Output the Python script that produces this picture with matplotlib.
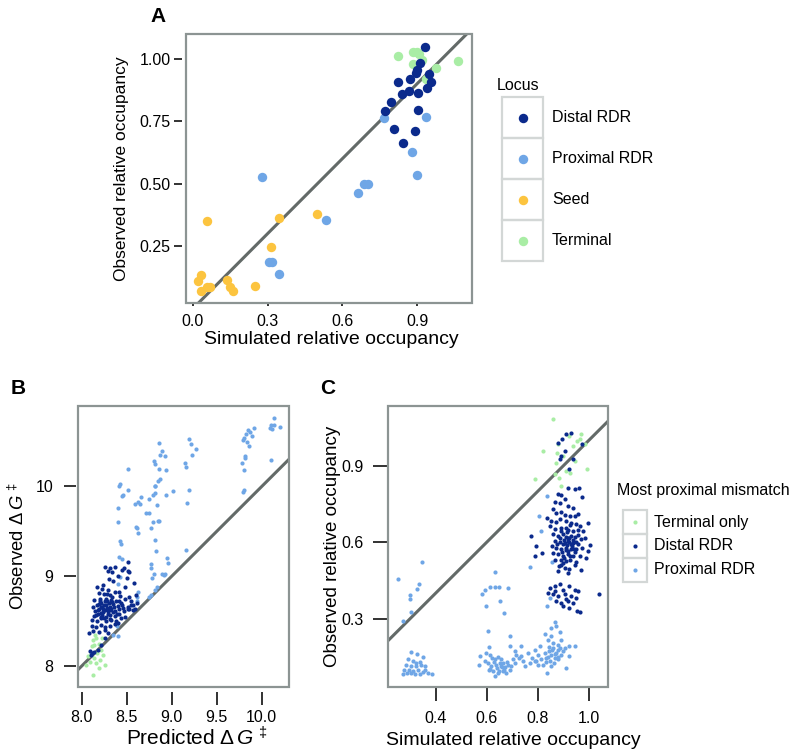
import matplotlib
matplotlib.use("Agg")
import matplotlib.pyplot as plt
from matplotlib.patches import Rectangle

plt.rcParams["font.family"] = ["Liberation Sans", "DejaVu Sans"]
plt.rcParams["mathtext.fontset"] = "custom"
plt.rcParams["mathtext.rm"] = "Liberation Sans"
plt.rcParams["mathtext.it"] = "Liberation Sans:italic"

DISTAL = "#0b2a8c"
PROXIMAL = "#6fa6e6"
SEED = "#fcc43f"
TERMINAL = "#a9eda5"
BOX = "#8c9493"
DIAG = "#636a68"

# ---------------- panel A data ----------------
a_distal_x = [0.929, 0.909, 0.900, 0.896, 0.946, 0.824, 0.869, 0.956, 0.938, 0.866, 0.837, 0.904,
              0.795, 0.771, 0.904, 0.808, 0.890, 0.843]
a_distal_y = [1.047, 0.983, 0.955, 0.942, 0.938, 0.906, 0.917, 0.907, 0.884, 0.871, 0.858, 0.863,
              0.826, 0.791, 0.794, 0.718, 0.710, 0.661]
a_prox_x = [0.765, 0.933, 0.878, 0.898, 0.277, 0.685, 0.704, 0.663, 0.536, 0.304, 0.317, 0.344]
a_prox_y = [0.762, 0.766, 0.626, 0.533, 0.525, 0.497, 0.497, 0.461, 0.354, 0.187, 0.185, 0.138]
a_seed_x = [0.056, 0.344, 0.498, 0.315, 0.034, 0.022, 0.056, 0.069, 0.032, 0.136, 0.149, 0.162, 0.249]
a_seed_y = [0.350, 0.363, 0.377, 0.245, 0.133, 0.110, 0.087, 0.085, 0.071, 0.113, 0.085, 0.071, 0.091]
a_term_x = [0.822, 0.882, 0.898, 0.906, 0.882, 0.920, 0.973, 1.062, 0.933]
a_term_y = [1.010, 1.027, 1.027, 1.020, 0.978, 0.994, 0.962, 0.991, 0.917]

# ---------------- panel B data (predicted, observed dG) ----------------
b_prox = [
    (10.14, 10.76), (10.10, 10.68), (10.14, 10.69), (10.09, 10.65), (10.11, 10.64), (10.20, 10.66), (10.10, 10.30),
    (9.91, 10.65), (9.85, 10.63), (9.83, 10.58), (9.80, 10.54), (9.89, 10.56), (9.84, 10.50), (9.86, 10.45),
    (9.81, 10.32), (9.78, 10.26), (9.80, 10.18), (9.80, 9.96), (9.79, 9.94), (9.82, 10.34), (9.79, 10.52), (9.87, 10.61),
    (9.19, 10.53), (9.21, 10.47), (9.27, 10.42), (9.23, 10.35), (9.15, 10.26), (9.16, 10.22), (9.19, 9.96),
    (9.17, 9.82), (9.16, 9.29),
    (8.86, 10.48), (8.89, 10.39), (8.87, 10.35), (8.93, 10.34), (8.80, 10.28), (8.82, 10.25), (8.86, 10.19),
    (8.94, 10.18), (8.87, 10.08), (8.85, 10.06), (8.81, 10.00), (8.82, 10.01), (8.79, 9.91), (8.82, 9.93),
    (8.94, 9.90), (9.02, 9.95), (8.84, 9.79), (8.75, 9.86), (8.66, 9.88), (8.63, 9.83), (8.65, 9.80), (8.59, 9.80),
    (8.75, 9.70), (8.71, 9.70), (8.85, 9.62), (8.86, 9.62), (8.79, 9.60), (8.77, 9.54), (8.60, 9.55), (8.62, 9.54),
    (8.63, 9.48), (8.82, 9.40), (8.83, 9.28), (8.95, 9.20), (8.96, 9.15), (8.77, 9.14), (8.77, 9.09), (8.80, 9.02),
    (8.78, 8.98), (8.89, 9.03), (8.93, 9.02), (8.91, 9.01), (8.84, 8.88), (8.82, 8.85), (8.77, 8.79), (8.75, 8.77),
    (8.61, 8.77),
    (8.51, 10.19), (8.43, 10.03), (8.42, 10.01), (8.51, 9.96), (8.46, 9.91), (8.45, 9.89), (8.40, 9.76),
    (8.40, 9.60), (8.43, 9.39), (8.44, 9.36), (8.41, 9.21), (8.45, 9.19), (8.43, 8.99), (8.40, 8.91), (8.40, 8.33),
    (8.63, 8.83), (8.39, 8.45), (8.62, 8.72), (8.35, 8.35),
]
b_distal = [
    (8.26, 9.10), (8.29, 9.06), (8.32, 9.09), (8.34, 9.05), (8.37, 9.10), (8.45, 9.07), (8.51, 9.16), (8.51, 9.06),
    (8.53, 9.05), (8.47, 9.09), (8.50, 8.98), (8.58, 8.93),
    (8.17, 8.88), (8.23, 8.86), (8.29, 8.85), (8.37, 8.83), (8.48, 8.88),
    (8.19, 8.81), (8.25, 8.80), (8.31, 8.79), (8.34, 8.77), (8.43, 8.78), (8.53, 8.77), (8.60, 8.79),
    (8.14, 8.74), (8.20, 8.75), (8.26, 8.73), (8.28, 8.72), (8.33, 8.74), (8.38, 8.72), (8.42, 8.73), (8.48, 8.75),
    (8.55, 8.72), (8.61, 8.70),
    (8.13, 8.66), (8.17, 8.68), (8.22, 8.66), (8.27, 8.68), (8.31, 8.66), (8.35, 8.69), (8.40, 8.67), (8.45, 8.68),
    (8.51, 8.66), (8.57, 8.68), (8.53, 8.64),
    (8.15, 8.61), (8.19, 8.64), (8.24, 8.63), (8.29, 8.61), (8.33, 8.64), (8.37, 8.61), (8.42, 8.63), (8.47, 8.61),
    (8.51, 8.63), (8.59, 8.64),
    (8.14, 8.56), (8.18, 8.58), (8.23, 8.57), (8.27, 8.55), (8.32, 8.57), (8.37, 8.56), (8.42, 8.58), (8.48, 8.55),
    (8.11, 8.51), (8.17, 8.50), (8.22, 8.53), (8.27, 8.50), (8.33, 8.51), (8.38, 8.50), (8.44, 8.53),
    (8.11, 8.45), (8.16, 8.44), (8.21, 8.46), (8.26, 8.43), (8.31, 8.45), (8.37, 8.47), (8.40, 8.48),
    (8.08, 8.37), (8.13, 8.39), (8.19, 8.38), (8.26, 8.40), (8.29, 8.37),
    (8.09, 8.17), (8.11, 8.14), (8.14, 8.16), (8.18, 8.18), (8.22, 8.24), (8.26, 8.31), (8.10, 8.12),
    (8.22, 8.70), (8.25, 8.68), (8.28, 8.65), (8.24, 8.60), (8.30, 8.70), (8.26, 8.62), (8.20, 8.72), (8.32, 8.62),
    (8.21, 8.59), (8.35, 8.60), (8.23, 8.66), (8.27, 8.75), (8.19, 8.69), (8.29, 8.58), (8.25, 8.53), (8.31, 8.52),
    (8.18, 8.62), (8.34, 8.71), (8.36, 8.66), (8.28, 8.80), (8.21, 8.55), (8.16, 8.57), (8.39, 8.58), (8.44, 8.70),
    (8.46, 8.65), (8.55, 8.68), (8.57, 8.62), (8.41, 8.82), (8.35, 8.95), (8.30, 8.97), (8.24, 8.90), (8.40, 9.00),
]
b_term = [
    (8.13, 8.29), (8.16, 8.31), (8.19, 8.25), (8.14, 8.23), (8.11, 8.22), (8.22, 8.18), (8.17, 8.14), (8.24, 8.12),
    (8.07, 8.11), (8.14, 8.09), (8.20, 8.07), (8.09, 8.05), (8.16, 8.03), (8.26, 8.01), (8.05, 8.01), (8.19, 7.98),
    (8.13, 7.90), (8.23, 8.31), (8.15, 8.35), (8.10, 8.14),
]

# ---------------- panel C data (simulated, observed occupancy) ----------------
c_prox = [
    (0.252, 0.456), (0.348, 0.522), (0.333, 0.437), (0.327, 0.417), (0.301, 0.392), (0.298, 0.375), (0.302, 0.326),
    (0.272, 0.290),
    (0.305, 0.167), (0.328, 0.162), (0.350, 0.149), (0.291, 0.139), (0.311, 0.132), (0.337, 0.128), (0.285, 0.119),
    (0.302, 0.115), (0.324, 0.112), (0.344, 0.119), (0.359, 0.115), (0.276, 0.099), (0.294, 0.097), (0.311, 0.093),
    (0.331, 0.099), (0.350, 0.089), (0.370, 0.086), (0.272, 0.082), (0.289, 0.084), (0.318, 0.080), (0.337, 0.080),
    (0.386, 0.082), (0.305, 0.086), (0.324, 0.125), (0.357, 0.099),
    (0.634, 0.484), (0.592, 0.414), (0.612, 0.423), (0.631, 0.425), (0.648, 0.423), (0.684, 0.421), (0.583, 0.397),
    (0.651, 0.368), (0.599, 0.351), (0.670, 0.320), (0.605, 0.250), (0.609, 0.190), (0.691, 0.230),
    (0.572, 0.152), (0.569, 0.119), (0.592, 0.132), (0.599, 0.165), (0.612, 0.158), (0.605, 0.125), (0.618, 0.112),
    (0.631, 0.139), (0.638, 0.119), (0.651, 0.125), (0.657, 0.112), (0.664, 0.093), (0.644, 0.086), (0.634, 0.076),
    (0.670, 0.099), (0.677, 0.086), (0.690, 0.099), (0.697, 0.112), (0.703, 0.139), (0.710, 0.125), (0.716, 0.158),
    (0.725, 0.145), (0.733, 0.152), (0.736, 0.194), (0.742, 0.132), (0.749, 0.112), (0.762, 0.165), (0.769, 0.125),
    (0.778, 0.145), (0.788, 0.178), (0.795, 0.132), (0.801, 0.158), (0.808, 0.191), (0.814, 0.139), (0.821, 0.119),
    (0.827, 0.165), (0.834, 0.145), (0.838, 0.086), (0.843, 0.171), (0.847, 0.132), (0.853, 0.158), (0.860, 0.202),
    (0.867, 0.145), (0.873, 0.165), (0.880, 0.178), (0.886, 0.185), (0.893, 0.158), (0.899, 0.171), (0.864, 0.125),
    (0.851, 0.112), (0.925, 0.191), (0.945, 0.191), (0.925, 0.152), (0.912, 0.106), (0.830, 0.241), (0.851, 0.263),
    (0.867, 0.286), (0.873, 0.270), (0.886, 0.246), (0.840, 0.217), (0.893, 0.217), (0.853, 0.230), (0.608, 0.099),
    (0.625, 0.093), (0.664, 0.125), (0.684, 0.119), (0.788, 0.132), (0.801, 0.119), (0.880, 0.139), (0.906, 0.185),
    (0.690, 0.191), (0.710, 0.171),
    (0.804, 0.703), (0.838, 0.782), (0.769, 0.503), (0.857, 0.522), (0.847, 0.381), (0.838, 0.349), (0.814, 0.644),
    (0.640, 0.105), (0.650, 0.095), (0.660, 0.108), (0.628, 0.128), (0.655, 0.140), (0.645, 0.150), (0.620, 0.145),
    (0.672, 0.110), (0.680, 0.130), (0.615, 0.100), (0.840, 0.150), (0.855, 0.175), (0.870, 0.160), (0.845, 0.190),
    (0.862, 0.185), (0.878, 0.195), (0.832, 0.128), (0.878, 0.150),
]
c_distal = [
    (0.895, 1.005), (0.910, 1.027), (0.932, 1.028), (0.880, 0.992), (0.890, 0.939), (0.886, 0.926), (0.906, 0.959),
    (0.925, 0.887), (0.938, 0.926), (0.975, 0.985),
    (0.919, 0.814), (0.945, 0.808), (0.961, 0.812), (0.974, 0.779), (0.880, 0.788), (0.893, 0.784), (0.906, 0.769),
    (0.867, 0.758), (0.886, 0.755), (0.919, 0.742), (0.938, 0.736), (0.958, 0.713), (0.860, 0.729), (0.873, 0.716),
    (0.893, 0.719), (0.906, 0.709), (0.929, 0.703), (0.945, 0.703), (0.838, 0.696), (0.853, 0.683), (0.873, 0.679),
    (0.886, 0.690), (0.912, 0.683), (0.932, 0.677), (0.952, 0.670), (0.965, 0.664), (0.997, 0.674), (0.847, 0.664),
    (0.867, 0.653), (0.893, 0.657), (0.919, 0.650), (0.938, 0.644), (0.958, 0.648), (0.978, 0.644), (0.775, 0.624),
    (0.860, 0.631), (0.880, 0.624), (0.899, 0.631), (0.912, 0.622), (0.925, 0.618), (0.945, 0.622), (0.969, 0.614),
    (0.984, 0.618), (0.867, 0.605), (0.886, 0.601), (0.906, 0.598), (0.921, 0.605), (0.938, 0.598), (0.958, 0.595),
    (1.004, 0.591), (0.795, 0.585), (0.856, 0.585), (0.873, 0.578), (0.893, 0.574), (0.912, 0.578), (0.932, 0.574),
    (0.952, 0.572), (0.974, 0.578), (0.997, 0.565), (0.817, 0.559), (0.860, 0.559), (0.880, 0.552), (0.899, 0.548),
    (0.919, 0.552), (0.938, 0.548), (0.965, 0.545), (0.991, 0.539), (0.867, 0.532), (0.893, 0.530), (0.912, 0.526),
    (0.929, 0.532), (0.952, 0.522), (0.788, 0.545), (0.893, 0.509), (0.908, 0.500), (0.925, 0.493), (0.945, 0.509),
    (0.880, 0.486), (0.919, 0.480), (0.971, 0.490), (0.899, 0.519), (0.882, 0.506),
    (0.847, 0.421), (0.867, 0.427), (0.886, 0.434), (0.899, 0.414), (0.925, 0.427), (0.945, 0.414), (0.958, 0.408),
    (0.840, 0.401), (0.860, 0.395), (0.880, 0.388), (0.906, 0.395), (0.932, 0.388), (0.952, 0.381), (0.873, 0.368),
    (0.893, 0.362), (0.919, 0.368), (0.938, 0.362), (0.899, 0.349), (0.925, 0.342), (0.955, 0.329), (0.965, 0.325),
    (1.039, 0.398), (0.867, 0.408), (0.912, 0.377),
    (0.905, 0.610), (0.915, 0.590), (0.925, 0.600), (0.935, 0.585), (0.910, 0.570), (0.920, 0.565), (0.930, 0.625),
    (0.940, 0.610), (0.900, 0.595), (0.915, 0.640), (0.895, 0.560), (0.928, 0.545), (0.942, 0.575), (0.950, 0.600),
    (0.905, 0.540), (0.918, 0.615), (0.932, 0.592), (0.887, 0.615), (0.948, 0.560), (0.912, 0.655), (0.926, 0.668),
    (0.875, 0.595), (0.960, 0.630), (0.890, 0.645),
]
c_term = [
    (0.860, 1.086), (0.925, 1.018), (0.971, 1.024), (0.984, 0.985), (0.955, 0.998), (0.938, 0.979), (0.880, 0.985),
    (0.821, 0.959), (0.877, 0.953), (0.899, 0.939), (0.945, 0.919), (0.912, 0.880), (0.867, 0.867), (0.882, 0.854),
    (0.788, 0.847), (0.893, 0.821), (0.995, 0.887), (0.965, 1.005), (0.873, 0.913), (0.929, 0.874),
]

a_legend = ["Distal RDR", "Proximal RDR", "Seed", "Terminal"]
c_legend = ["Terminal only", "Distal RDR", "Proximal RDR"]

W, H = 796, 754


def frame(ax, xlim, ylim, xt, yt, xtl, ytl, xpos, ypos):
    ax.set_xlim(*xlim)
    ax.set_ylim(*ylim)
    for s in ax.spines.values():
        s.set_color("none")
    ax.spines["bottom"].set_position(("outward", xpos[0]))
    ax.spines["left"].set_position(("outward", ypos[0]))
    ax.add_patch(Rectangle((0, 0), 1, 1, transform=ax.transAxes, fill=False, ec=BOX, lw=1.6,
                           clip_on=False, zorder=5))
    ax.set_xticks(xt)
    ax.set_xticklabels(xtl)
    ax.set_yticks(yt)
    ax.set_yticklabels(ytl)
    ax.tick_params(axis="x", length=xpos[1], width=1.3, pad=xpos[2], labelsize=11.5, color="#222222")
    ax.tick_params(axis="y", length=ypos[1], width=1.3, pad=ypos[2], labelsize=11.5, color="#222222")
    ax.axline((0, 0), slope=1, color=DIAG, lw=2.2, zorder=3)


def pxbox(l, t, r, b):
    return [l / W, 1 - b / H, (r - l) / W, (b - t) / H]


fig = plt.figure(figsize=(7.96, 7.54), dpi=100)

# overlay for legends and panel letters (pixel coordinates)
ov = fig.add_axes([0, 0, 1, 1])
ov.set_xlim(0, W)
ov.set_ylim(H, 0)
ov.axis("off")

# ---- A ----
axA = fig.add_axes(pxbox(186, 34, 471.7, 302.7))
axA.scatter(a_seed_x, a_seed_y, s=46, color=SEED, lw=0, zorder=4)
axA.scatter(a_term_x, a_term_y, s=46, color=TERMINAL, lw=0, zorder=4)
axA.scatter(a_prox_x, a_prox_y, s=46, color=PROXIMAL, lw=0, zorder=4)
axA.scatter(a_distal_x, a_distal_y, s=46, color=DISTAL, lw=0, zorder=4)
frame(axA, (-0.027, 1.118), (0.024, 1.098), [0.0, 0.3, 0.6, 0.9], [0.25, 0.5, 0.75, 1.0],
      ["0.0", "0.3", "0.6", "0.9"], ["0.25", "0.50", "0.75", "1.00"], (0.5, 2.5, 5), (3, 6, 2))
axA.set_xlabel("Simulated relative occupancy", fontsize=14)
axA.set_ylabel("Observed relative occupancy", fontsize=12.5)
axA.xaxis.set_label_coords(0.51, -0.105)
axA.yaxis.set_label_coords(-0.20, 0.5)

# ---- B ----
axB = fig.add_axes(pxbox(78, 405.7, 288.7, 686.7))
axB.scatter([p[0] for p in b_prox], [p[1] for p in b_prox], s=9, color=PROXIMAL, lw=0, zorder=4)
axB.scatter([p[0] for p in b_term], [p[1] for p in b_term], s=9, color=TERMINAL, lw=0, zorder=4)
axB.scatter([p[0] for p in b_distal], [p[1] for p in b_distal], s=9, color=DISTAL, lw=0, zorder=4)
frame(axB, (7.959, 10.3), (7.77, 10.9), [8.0, 8.5, 9.0, 9.5, 10.0], [8, 9, 10],
      ["8.0", "8.5", "9.0", "9.5", "10.0"], ["8", "9", "10"], (3.6, 9.4, 3.6), (1.4, 8.4, 8))
axB.set_xlabel(r"Predicted $\Delta\,G^{\,\ddagger}$", fontsize=15)
axB.set_ylabel(r"Observed $\Delta\,G^{\,\ddagger}$", fontsize=13.3)
axB.xaxis.set_label_coords(0.565, -0.142)
axB.yaxis.set_label_coords(-0.235, 0.5)

# ---- C ----
axC = fig.add_axes(pxbox(388.3, 406, 607.7, 686.7))
axC.scatter([p[0] for p in c_prox], [p[1] for p in c_prox], s=9, color=PROXIMAL, lw=0, zorder=4)
axC.scatter([p[0] for p in c_term], [p[1] for p in c_term], s=9, color=TERMINAL, lw=0, zorder=4)
axC.scatter([p[0] for p in c_distal], [p[1] for p in c_distal], s=9, color=DISTAL, lw=0, zorder=4)
frame(axC, (0.214, 1.075), (0.032, 1.136), [0.4, 0.6, 0.8, 1.0], [0.3, 0.6, 0.9],
      ["0.4", "0.6", "0.8", "1.0"], ["0.3", "0.6", "0.9"], (1.2, 9.6, 7), (0, 10.8, 7))
axC.set_xlabel("Simulated relative occupancy", fontsize=14)
axC.set_ylabel("Observed relative occupancy", fontsize=13.5)
axC.xaxis.set_label_coords(0.571, -0.162)
axC.yaxis.set_label_coords(-0.215, 0.5)

# ---- legend A ----
ov.text(497, 86, "Locus", fontsize=11.5, va="center", ha="left")
a_cols = [DISTAL, PROXIMAL, SEED, TERMINAL]
for i, (lab, col) in enumerate(zip(a_legend, a_cols)):
    top = 97 + 41 * i
    ov.add_patch(Rectangle((501.7, top), 41.6, 41, fill=False, ec="#d3d7d6", lw=1.6))
    ov.plot(522.5, top + 20.5, "o", ms=6.8, color=col, mew=0)
    ov.text(552, top + 20.5, lab, fontsize=11.5, va="center", ha="left")

# ---- legend C ----
ov.text(617, 490, "Most proximal mismatch", fontsize=11.5, va="center", ha="left")
c_cols = [TERMINAL, DISTAL, PROXIMAL]
for i, (lab, col) in enumerate(zip(c_legend, c_cols)):
    top = 510 + 24 * i
    ov.add_patch(Rectangle((622.7, top), 24, 24, fill=False, ec="#d3d7d6", lw=1.6))
    ov.plot(634.7, top + 12, "o", ms=3, color=col, mew=0)
    ov.text(654, top + 12, lab, fontsize=11.5, va="center", ha="left")

# panel letters
ov.text(150, 16, "A", fontsize=15, fontweight="bold", va="center", ha="left")
ov.text(11, 388, "B", fontsize=15, fontweight="bold", va="center", ha="left")
ov.text(320, 388, "C", fontsize=15, fontweight="bold", va="center", ha="left")

fig.savefig("out.png", dpi=100)
